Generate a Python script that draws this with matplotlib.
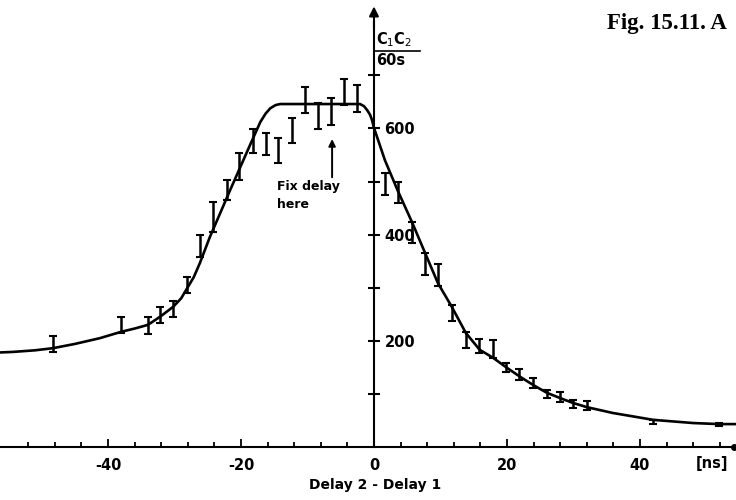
import matplotlib.pyplot as plt
import numpy as np

# measured points: delay in ns, top and bottom of each error bar (counts / 60 s)
delay = [-48.3, -38.0, -34.0, -32.2, -30.2, -28.1, -26.2, -24.2, -22.1, -20.3,
         -18.2, -16.2, -14.4, -12.3, -10.4, -8.4, -6.5, -4.5, -2.6,
         1.65, 3.6, 5.7, 7.7, 9.6, 11.7, 13.8, 15.8, 17.9, 19.8,
         21.8, 23.9, 26.0, 28.0, 29.9, 32.0, 42.0, 51.9]
upper = [209, 245, 245, 264, 275, 320, 399, 461, 503, 554,
         599, 591, 582, 620, 678, 648, 657, 693, 682,
         516, 499, 424, 365, 345, 267, 217, 203, 201, 158,
         147, 130, 107, 104, 89, 87, 50, 46]
lower = [179, 215, 213, 234, 245, 290, 358, 405, 465, 503,
         554, 550, 535, 573, 629, 599, 606, 644, 631,
         475, 460, 384, 324, 303, 237, 186, 177, 168, 141,
         126, 111, 92, 85, 73, 70, 44, 40]

# fitted curve
curve_x = [-56.2, -54.3, -51.0, -48.3, -45.0, -41.2, -38.0, -36.0, -34.0, -32.2,
           -30.2, -29.0, -28.1, -27.1, -26.2, -24.7, -21.7, -18.6, -17.1, -16.3,
           -15.6, -14.8, -14.1, -2.1, -1.5, -1.0, -0.6, -0.3, 0.0, 1.65, 3.6,
           5.7, 7.7, 9.6, 11.7, 13.8, 15.9, 17.9, 20.0, 22.0, 23.9, 26.0, 28.0,
           29.9, 32.0, 35.9, 42.0, 48.0, 51.9, 54.4]
curve_y = [178, 179, 182, 186, 194, 205, 217, 223, 230, 245,
           264, 280, 299, 320, 346, 395, 482, 570, 612, 628,
           638, 644, 646, 646, 642, 634, 626, 616, 601, 540, 482,
           424, 365, 309, 264, 215, 183, 168, 149, 132, 117, 102, 92,
           83, 75, 64, 51, 45, 43, 43]

yticks = [100, 200, 300, 400, 500, 600, 700]
ytick_labels = ['', '200', '', '400', '', '600', '']
xticks = [-40, -20, 0, 20, 40]
xtick_labels = ['-40', '-20', '0', '20', '40']
xminor = [-52, -48, -44, -36, -32, -28, -24, -16, -12, -8, -4,
          4, 8, 12, 16, 24, 28, 32, 36, 44, 48, 52]

fig = plt.figure(figsize=(7.36, 5.0), dpi=100)
ax = fig.add_axes([0, 0, 1, 1])
ax.set_xlim(-56.25, 54.45)
ax.set_ylim(-100, 842)

center = [(u + l) / 2 for u, l in zip(upper, lower)]
err = [(u - l) / 2 for u, l in zip(upper, lower)]

ax.plot(curve_x, curve_y, color='k', lw=1.9, solid_capstyle='round',
        solid_joinstyle='round')
ax.errorbar(delay, center, yerr=err, fmt='none', ecolor='k',
            elinewidth=1.8, capsize=2.6, capthick=1.5)

# axes through the origin
for s in ['left', 'top']:
    ax.spines[s].set_visible(False)
ax.spines['bottom'].set_position(('data', 0))
ax.spines['right'].set_position(('data', 0))
ax.spines['bottom'].set_linewidth(1.5)
ax.spines['right'].set_linewidth(1.5)
ax.spines['right'].set_bounds(0, 800)
ax.annotate('', xy=(0, 830), xytext=(0, 790),
            arrowprops=dict(arrowstyle='-|>', lw=1.5, color='k',
                            mutation_scale=14, shrinkA=0, shrinkB=0))
ax.plot([54.1], [0], 'ko', ms=4, clip_on=False)

ax.yaxis.set_ticks_position('right')
ax.set_yticks(yticks)
ax.set_yticklabels(ytick_labels, fontsize=10.5, fontweight='bold')
ax.tick_params(axis='y', direction='inout', length=8, width=1.5, pad=3.5)

ax.set_xticks(xticks)
ax.set_xticklabels(xtick_labels, fontsize=10.5, fontweight='bold')
ax.set_xticks(xminor, minor=True)
ax.tick_params(axis='x', which='major', direction='in', length=6, width=1.3, pad=8)
ax.tick_params(axis='x', which='minor', direction='in', length=3.5, width=1.3)

ax.text(50.8, -31, '[ns]', fontsize=10.5, fontweight='bold', ha='center', va='center')
ax.text(0.15, -71, 'Delay 2 - Delay 1', fontsize=10, fontweight='bold',
        ha='center', va='center')

# y-axis label as a fraction
ax.text(0.3, 768, 'C$_1$C$_2$', fontsize=10.5, fontweight='bold', ha='left', va='center')
ax.plot([0.15, 6.9], [746, 746], color='k', lw=1.2)
ax.text(0.3, 728, '60s', fontsize=10.5, fontweight='bold', ha='left', va='center')

ax.text(35.0, 798, 'Fig. 15.11. A', fontsize=16.5, fontweight='bold',
        family='Liberation Serif', ha='left', va='center')

ax.annotate('', xy=(-6.3, 580), xytext=(-6.3, 508),
            arrowprops=dict(arrowstyle='-|>', lw=1.4, color='k',
                            mutation_scale=10, shrinkA=0, shrinkB=0))
ax.text(-14.6, 490, 'Fix delay', fontsize=9, fontweight='bold', ha='left', va='center')
ax.text(-14.6, 456, 'here', fontsize=9, fontweight='bold', ha='left', va='center')

plt.savefig('out.png', dpi=100)
